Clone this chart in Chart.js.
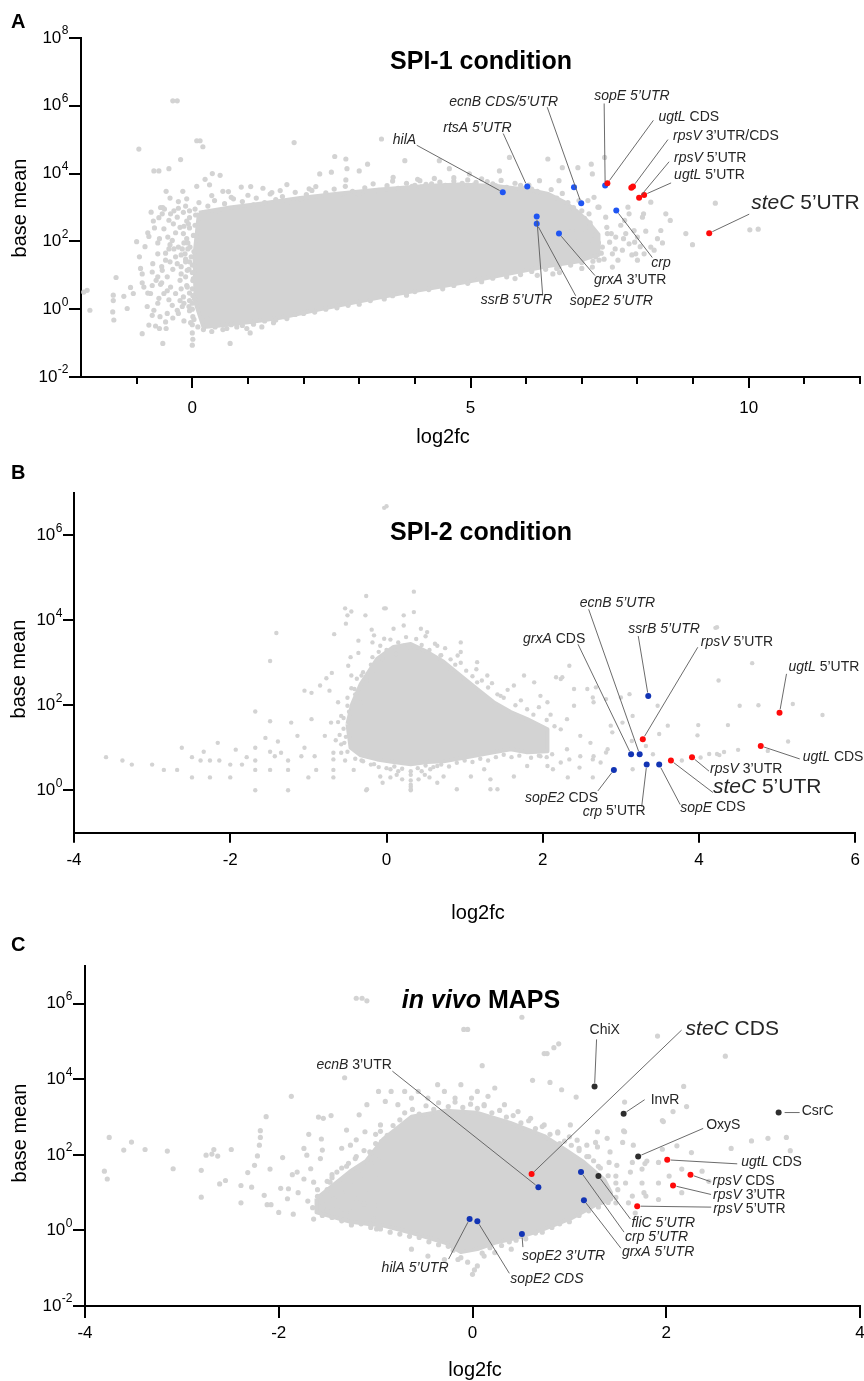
<!DOCTYPE html>
<html>
<head>
<meta charset="utf-8">
<script src="https://cdn.jsdelivr.net/npm/chart.js@4.4.1/dist/chart.umd.min.js"></script>
<style>
  html, body { margin: 0; padding: 0; background: #fff; }
  body { width: 864px; height: 1381px; position: relative; overflow: hidden; }
  canvas { position: absolute; left: 0; }
</style>
</head>
<body>
<canvas id="panelA" width="864" height="450" style="top:0px"></canvas>
<canvas id="panelB" width="864" height="480" style="top:450px"></canvas>
<canvas id="panelC" width="864" height="451" style="top:930px"></canvas>
<script>
// ---------- SPI-1 condition (panel A): [log2fc, base mean] ----------
const spi1Grey = [
  [-0.35,1.4e6],[-0.27,1.4e6],[0.08,9.3e4],[0.14,9.3e4],[0.19,6.2e4],[-0.96,5.3e4],[1.83,8.2e4],[-0.21,2.6e4],
  [-0.69,1.2e4],[-0.6,1.2e4],[-0.42,1.4e4],[-1.0,98],[-1.89,3.6],[-1.95,3.2],[-1.84,0.93],[-1.37,8.6],[-1.42,2.6],
  [-1.42,1.8],[-1.43,0.83],[-1.41,0.48],[-1.17,1.05],[-1.23,2.4],[-1.11,4.4],[-1.06,2.9],[-0.9,0.19],[-0.53,0.098],
  [0.0,0.087],[0.68,0.098],[1.04,0.2],[-0.72,0.66],[-0.78,0.34],[-0.59,0.27],[-0.66,0.32],[-0.48,0.42],[-0.47,0.27],
  [-0.9,11],[-0.93,16],[-0.71,22],[-0.74,730],[-0.57,1000],[-0.53,1000],[-0.47,3000],[-0.17,3000],[-0.44,134],
  [-0.62,43],[-0.59,120],[-0.54,14],[-0.45,9],[-0.57,5.4],[-0.36,1.3],[-0.27,0.93],[-0.18,1.2],
  [-0.54,650],[-0.39,650],[-0.27,520],[-0.22,260],[-0.34,330],[-0.16,170],[-0.51,235],[-0.36,107],[-0.25,68],
  [-0.13,43],[-0.48,28],[-0.27,22],[-0.09,14],[-0.22,7.1],[-0.39,4.5],[-0.51,2.9],[-0.3,2.9],[-0.16,2.3],[-0.6,2.1],
  [-0.69,0.93],[-0.45,0.75],[-0.25,0.75],[-0.09,4.5],[-0.04,68],[-0.16,720],[-0.07,330],[-0.65,7.1],[-0.75,2.9],
  [-0.81,1.2],[-0.87,4.5],[-0.72,12.5],[-0.8,180],[-0.7,400],[-0.62,90],[-0.42,60],[-0.3,35],[-0.2,18],[-0.12,9],
  [-0.05,25],[-0.35,15],[-0.55,6],[-0.45,3.5],[-0.15,1.5],[-0.05,1.8],[-0.62,1.5],[-0.3,180],[-0.1,120],[-0.05,500],
  [-0.25,1500],[-0.1,1800],[-0.4,1900],[-0.05,3],[-0.2,4],
  [-0.95,35],[-0.85,70],[-0.78,140],[-0.68,250],[-0.6,500],[-0.5,900],[-0.42,420],[-0.33,800],[-0.25,950],
  [-0.12,1100],[-0.05,800],[-0.9,6],[-0.8,3],[-0.72,5],[-0.62,9],[-0.55,18],[-0.48,45],[-0.4,80],[-0.33,60],
  [-0.2,40],[-0.12,25],[-0.08,60],[-0.15,90],[-0.4,25],[-0.58,0.6],[-0.35,0.55],[-0.15,0.45],[-0.05,0.9],
  [-0.22,1.8],[-0.42,1.9],
  [0.0,20],[0.0,12],[0.01,7],[0.0,4],[0.01,2.5],[0.0,1.5],[0.0,1],[0.01,0.6],[0.0,0.35],[0.0,0.2],[0.01,0.13],
  [0.26,0.53],[0.41,0.3],[0.62,0.27],[0.8,0.3],[0.98,0.27],[1.25,0.3],[1.46,0.4],[1.7,0.53],
  [0.36,1.0e4],[0.5,8900],[0.23,6800],[0.08,4200],[0.31,4650],[0.55,3000],[0.65,2950],[0.88,4000],[1.05,4150],
  [1.27,3700],[1.58,3160],[1.7,4750],[2.1,3550],[2.29,9800],[2.5,1.1e4],[2.56,3.2e4],[2.76,2.7e4],[2.78,1.4e4],
  [3.0,1.2e4],[3.15,1.9e4],[2.76,6500],[2.22,4150],[1.43,2750],[0.74,1800],[0.35,2250],
  [3.4,1.05e5],[4.44,2.4e4],[3.82,2.4e4],[3.61,7800],[4.09,6200],[4.62,1.4e4],[4.98,9800],[5.52,1.2e4],[5.7,3e4],
  [6.39,2.7e4],[6.65,1.5e4],[6.24,6200],[6.59,6200],[7.19,9800],[7.22,2000],[7.31,1020],[7.13,650],[7.43,520],
  [7.79,170],[7.97,43],[7.61,134],[8.09,520],[6.83,210],[6.95,43],[6.48,11],[7.31,28],
  [3.5,3500],[4.0,4500],[4.3,5000],[4.7,6000],[5.1,5500],[5.4,5000],[5.9,4500],[6.1,3500],[3.3,3000],[2.9,2600],
  [5.8,8],[6.2,10],[6.6,12],[7.0,16],
  [9.4,1340],[10.02,220],[10.17,230],[8.99,80],[8.87,170],[8.59,415],[8.51,650],[8.36,120],[8.42,210],[8.11,650],
  [7.94,210],[8.0,134],[7.83,1020],[7.85,650],[8.24,1440],[7.41,3e4],[7.17,1.9e4],[6.93,1.5e4],[7.11,1600],
  [7.29,1020],[7.53,170],[7.77,415],[8.12,43],[8.24,68],[8.0,28],
  [6.71,1020],[6.89,415],[7.07,210],[7.19,107],[7.37,68],[7.55,43],[7.73,55],[7.85,85],[7.46,170],[6.95,107],
  [6.83,35],[7.19,17.5],[7.55,17.5],[6.59,17.5],
  [7.15,300],[7.25,150],[7.3,90],[7.35,45],[7.25,35],[7.45,260],[7.5,95],[7.6,60],[7.65,28],[7.7,300],[7.75,120],
  [7.9,40],[7.95,95],[8.05,70],[8.15,200],[8.3,55],[8.45,90]
];
// ragged edge dots of the dense cloud
const spi1Edge = [
  [0.05,900],[0.12,1400],[0.2,700],[0.28,1100],[0.4,1600],[0.45,800],[0.58,1300],[0.7,2000],[0.78,1000],[0.9,1500],
  [1.0,2300],[1.1,1200],[1.15,1900],[1.3,1400],[1.4,2500],[1.5,1700],[1.62,2100],[1.75,1500],[1.85,2800],
  [1.95,1800],[2.05,2400],[2.15,3200],[2.3,2000],[2.4,2700],[2.55,3500],[2.65,2300],[2.75,4200],[2.88,3000],
  [3.0,2500],[3.1,3800],[3.25,5000],[3.35,3200],[3.5,4400],[3.6,6000],[3.7,3700],[3.85,5200],[3.95,4200],
  [4.05,6800],[4.2,4800],[4.35,7200],[4.45,5600],[4.55,4500],[4.7,7600],[4.85,5200],[4.95,6500],[5.05,4600],
  [5.2,7000],[5.3,5800],[5.45,4400],[5.55,6300],[5.65,3900],[5.8,5200],[5.95,3600],[6.05,4600],[6.2,3000],
  [6.3,2300],[6.45,3400],[6.55,1900],[6.65,2600],[6.75,1400],[6.85,1000],[6.95,1600],[7.0,800],[7.05,480],
  [7.15,350],
  [0.2,0.25],[0.35,0.22],[0.55,0.25],[0.7,0.35],[0.9,0.33],[1.1,0.36],[1.3,0.45],[1.5,0.48],[1.65,0.6],
  [1.85,0.7],[2.0,0.75],[2.2,0.82],[2.4,1.0],[2.6,1.1],[2.8,1.3],[3.0,1.4],[3.2,1.8],[3.45,2.0],[3.6,2.5],
  [3.85,2.6],[4.0,3.3],[4.25,3.8],[4.5,4.0],[4.7,5.0],[4.95,5.8],[5.2,6.5],[5.4,8.2],[5.65,9],[5.9,10.5],
  [6.1,13],[6.35,15],[6.55,16],[6.8,20],[7.0,24],[7.2,26],[7.4,30],
  [-0.1,400],[-0.05,250],[0.02,150],[-0.08,90],[0.03,50],[-0.12,30],[0.02,8],[-0.1,5],[0.04,2],[-0.06,1.2],
  [0.03,0.5],[-0.15,280],[-0.18,60],[-0.2,11],[-0.03,0.4],[0.05,300],[-0.02,35],[-0.06,15],[0.06,600],[0.1,0.3]
];
// outline of the dense, fully covered part of the cloud
const spi1Core = [
  [0.12,700],[0.68,1000],[1.22,1300],[1.94,1900],[2.65,2600],[3.37,3400],[4.09,4200],[4.8,4800],[5.52,4200],
  [6.06,3300],[6.4,2500],[6.7,1400],[6.9,800],[7.1,400],[7.3,160],
  [7.3,40],[7.1,32],[6.95,26],[6.42,19],[5.88,13],[5.16,7.5],[4.44,4.6],[3.73,2.9],[3.01,1.7],[2.29,1.0],[1.58,0.56],
  [1.04,0.42],[0.5,0.33],[0.2,0.3],[0.06,1.5],[0.04,40]
];
const spi1Features = ['hilA', "rtsA 5'UTR", 'ecnB CDS', "ecnB 5'UTR", "sopE 5'UTR", 'crp', "ssrB 5'UTR",
  "sopE2 5'UTR", "grxA 3'UTR", 'ugtL CDS', "rpsV 3'UTR", 'rpsV CDS', "rpsV 5'UTR", "ugtL 5'UTR", "steC 5'UTR"];
const spi1FeatureFc = [5.58, 6.02, 6.86, 6.99, 7.42, 7.62, 6.19, 6.19, 6.59, 7.46, 7.89, 7.92, 8.03, 8.12, 9.29];
const spi1FeatureMean = [2820, 4150, 3960, 1340, 4460, 815, 545, 330, 170, 5160, 3800, 4150, 1940, 2350, 175];
const spi1FeatureGroup = ['blue','blue','blue','blue','blue','blue','blue','blue','blue','red','red','red','red','red','red'];

// ---------- SPI-2 condition (panel B) ----------
const spi2Grey = [
  [-3.59,6],[-3.38,5],[-3.26,4],[-3.0,4],[-2.85,3],[-2.68,3],[-2.62,10],[-2.49,6],[-2.49,2],[-2.38,5],[-2.34,8],
  [-2.26,5],[-2.26,2],[-2.16,13],[-2.14,5],[-2.0,4],[-2.0,2],[-1.93,9],[-1.85,4],[-1.79,6],[-1.68,71],[-1.68,10],
  [-1.68,5],[-1.68,3],[-1.68,1],[-1.55,17],[-1.49,42],[-1.49,1100],[-1.41,5000],[-1.49,8],[-1.49,3],[-1.39,14],
  [-1.26,5],[-1.26,3],[-1.26,1],[-1.22,39],[-1.14,19],[-1.05,220],[-0.96,195],[-0.96,47],[-1.0,2],[-0.9,3],
  [-0.85,290],[-0.77,430],[-0.7,575],[-0.67,4700],[-0.68,2],[-0.68,3],[-0.68,5.3],[-0.68,7.6],[-0.73,220],
  [-0.53,1.9e4],[-0.5,1.3e4],[-0.45,1.6e4],[-0.52,8300],[-0.26,3.7e4],[-0.27,1.3e4],[-0.36,3300],[-0.36,1700],
  [-0.46,1350],[-0.49,850],[-0.45,500],[-0.26,1],[-0.42,3],[-0.53,5],[-0.32,5],[-0.19,6000],[-0.18,3000],[-0.18,1350],
  [-1.05,10],[-0.92,6.3],[-0.79,19],[-0.71,39],[-0.62,117],[-0.58,56],[-0.54,13],[-0.5,97],[-0.41,240],[-0.32,117],
  [-0.32,500],[-0.58,7.6],[-0.24,7.6],[-1.09,6.3],[-1.35,7.6],[-1.43,6.3],
  [-0.03,4.4e6],[0.0,4.8e6],
  [0.31,2.3],[0.31,1.35],[0.31,1],[0.2,1.8],[0.41,1.8],[0.13,2.3],[0.49,2.3],[0.05,3.1],[0.56,3.1],
  [-0.16,4.1],[-0.08,2.1],[-0.25,1.05],[0.31,1.05],[0.73,2.1],[0.9,1.05],[0.65,3.7],[1.08,2.1],[1.25,3.1],[1.33,1.8],
  [1.33,1.05],[1.42,1.05],[1.63,2.1],[1.8,3.7],[1.97,6.3],[2.06,3.7],[2.23,4.5],[2.31,9.2],[2.48,6.3],[2.65,6.3],
  [2.74,4.5],[2.83,9.2],[2.61,13],[2.48,19],[2.23,27],[2.31,47],[2.4,97],[2.06,117],[1.89,345],[1.76,500],[1.63,290],
  [2.23,415],[2.25,455],[2.57,240],[2.87,33],[2.65,117],[2.4,240],[1.97,166],[1.46,166],[1.29,500],[1.16,345],
  [0.95,3000],[0.95,1780],[0.78,710],[0.65,2500],[0.52,5250],[0.35,1.55e4],[0.35,4.7e4],[0.22,1.3e4],[0.22,7500],
  [-0.01,1.9e4],[-0.03,1.9e4],[-0.03,3650],[0.09,6300],[-0.16,4400],[-0.08,2500],[0.44,6300],[0.22,2500],[0.69,1480],
  [0.91,1480],[1.16,1030],
  [4.21,6600],[4.23,6800],[4.68,975],[4.25,380],[4.52,97],[4.76,100],[5.2,107],[5.58,59],[3.99,34],[4.37,34],
  [3.98,19.5],[5.14,14],[4.5,8.9],[4.32,7.9],[4.23,7.1],[4.13,7.1],[4.02,5.9],[3.78,5.0],[3.6,33],[3.49,21],
  [3.32,11],[3.41,7],[3.15,3.1],[3.11,182],[3.0,152],[3.47,97],[3.14,14.4],[3.02,39],[2.89,23],[2.81,7.7],[2.64,2],
  [2.64,5.3],[2.47,3.4],[2.34,5.3],[2.32,2],[2.13,3.1],[2.64,152],[2.81,139],[2.68,263],[2.34,850],[2.17,455],
  [3.15,56],[4.26,6.7],[4.88,8.4]
];
const spi2Edge = [
  [-0.55,50],[-0.5,150],[-0.45,250],[-0.4,180],[-0.38,420],[-0.3,600],[-0.25,380],[-0.2,900],[-0.15,650],
  [-0.1,1800],[-0.05,1200],[0.0,2000],[0.05,3500],[0.12,1600],[0.15,3000],[0.25,4000],[0.3,2200],[0.38,3600],
  [0.45,2600],[0.5,4200],[0.55,2000],[0.62,2800],[0.7,1500],[0.75,2200],[0.82,1200],[0.88,900],[0.95,1000],
  [1.02,650],[1.1,480],[1.15,700],[1.22,380],[1.3,260],[1.35,330],[1.42,180],[1.5,150],[1.55,230],[1.65,100],
  [1.72,130],[1.8,80],[1.88,60],[1.95,90],[2.05,45],[2.1,60],[2.15,32],
  [-0.5,8],[-0.4,5.5],[-0.3,4.8],[-0.2,4],[-0.1,3.5],[0.0,3.3],[0.1,3.6],[0.2,3.2],[0.4,3.3],[0.5,3.8],[0.6,3.5],
  [0.7,4],[0.8,3.6],[0.9,4.4],[1.0,5],[1.1,4.6],[1.2,5.5],[1.3,5],[1.4,6],[1.5,6.8],[1.6,6],[1.7,6.5],[1.85,5.8],
  [1.95,6.5],[2.05,6],[2.12,7],
  [-0.6,20],[-0.62,40],[-0.55,28],[-0.58,12],[-0.52,18],[-0.48,70],[-0.65,15],
  [0.31,2.8],[0.31,1.7],[0.31,1.2],[0.15,2.8],[0.05,2],[-0.05,1.5],[0.45,2.8],[0.55,2],[0.65,1.5]
];
const spi2Core = [
  [-0.5,36],[-0.44,107],[-0.33,315],[-0.12,1230],[0.09,2360],[0.31,2750],[0.52,1800],[0.73,1050],[0.95,490],
  [1.16,240],[1.37,118],[1.59,69],[1.8,47],[2.06,27],
  [2.06,8.2],[1.8,7.8],[1.59,9.2],[1.37,7.8],[1.16,6.6],[0.95,5.6],[0.73,4.8],[0.52,4.6],[0.31,4.1],[0.09,4.6],
  [-0.12,5.3],[-0.33,6.6],[-0.46,10]
];
const spi2Features = ["ecnB 5'UTR", "ssrB 5'UTR", 'grxA CDS', "crp 5'UTR", 'sopE CDS', 'sopE2 CDS',
  "rpsV 5'UTR", "steC 5'UTR", "rpsV 3'UTR", 'ugtL CDS', "ugtL 5'UTR"];
const spi2FeatureFc = [3.24, 3.35, 3.13, 3.33, 3.49, 2.91, 3.28, 3.64, 3.91, 4.79, 5.03];
const spi2FeatureMean = [7, 164, 7, 4.0, 4.0, 3.0, 15.8, 5.0, 6.0, 11, 66];
const spi2FeatureGroup = ['blue','blue','blue','blue','blue','blue','red','red','red','red','red'];

// ---------- in vivo MAPS (panel C) ----------
const mapsGrey = [
  [-3.75,290],[-3.8,37],[-3.77,23],[-3.6,134],[-3.52,219],[-3.38,139],[-3.15,126],[-3.09,43],[-2.8,39],[-2.8,7.6],
  [-2.75,98],[-2.69,105],[-2.67,139],[-2.63,93],[-2.61,17],[-2.55,21],[-2.49,139],[-2.39,15.5],[-2.39,5.4],
  [-2.32,34],[-2.28,14],[-2.25,53],[-2.22,94],[-2.2,181],[-2.19,290],[-2.19,437],[-2.13,1030],[-2.15,8.5],
  [-2.12,4.8],[-2.08,4.8],[-2.09,42],[-1.96,85],[-2.0,3.0],[-1.98,13],[-1.91,6.9],[-1.9,12.7],[-1.87,3550],
  [-1.86,30],[-1.81,35],[-1.85,2.7],[-1.74,148],[-1.71,98],[-1.69,350],[-1.67,43],[-1.74,23],[-1.64,19],[-1.64,2.0],
  [-1.59,1000],[-1.54,930],[-1.56,263],[-1.55,134],[-1.46,1100],[-1.57,80],[-1.47,19],[-1.4,35],[-1.54,4.6],
  [-1.43,6.9],[-1.32,1.1e4],[-1.3,455],[-1.26,181],[-1.21,80],[-1.17,1150],[-1.2,6.9],[-1.33,2.7],[-1.09,2130],
  [-1.11,410],[-1.06,120],[-1.09,23],[-1.02,2],[-1.01,4.6],[-0.97,4800],[-0.95,620],[-0.94,224],
  [-1.2,1.4e6],[-1.14,1.4e6],[-1.09,1.2e6],
  [-1.5,12],[-1.45,25],[-1.35,10],[-1.3,50],[-1.25,15],[-1.15,30],[-1.1,12],[-1.05,60],[-1.0,25],[-0.95,90],
  [-1.4,4],[-1.25,3],[-1.12,5],[-0.98,2],[-1.6,8],[-1.7,6],[-1.8,10],[-1.65,4],[-1.5,3.5],[-1.35,150],[-1.2,250],
  [-1.0,350],
  [0.51,4.4e5],[-0.09,2.1e5],[-0.05,2.1e5],[0.89,8.7e4],[0.84,6.9e4],[0.77,4.8e4],[0.74,4.8e4],[0.1,2.3e4],
  [0.62,9400],[0.8,8300],[0.92,5300],[1.07,3400],[1.91,1.4e5],[1.57,2500],[1.56,430],[1.66,181],[1.96,810],
  [2.07,1400],[1.78,59],[1.77,10],[1.63,35],[1.42,120],[1.49,53],[1.39,275],[1.29,162],[1.18,181],[1.08,245],
  [1.29,410],[1.01,620],[0.23,5900],[0.16,3550],[0.05,4800],[-0.12,7200],[-0.29,4800],[-0.36,7200],[-0.56,4800],
  [-0.7,4800],[-0.84,4800],[-0.9,2600],[-0.77,2130],[-0.63,3200],[-0.46,3200],[-0.18,3200],[-0.01,3200],
  [0.12,2130],[0.33,2130],[0.47,1400],[0.6,930],[0.74,620],[0.88,410],
  [1.0,300],[1.1,150],[1.2,90],[1.3,50],[0.9,200],
  [-0.05,0.145],[0.02,0.09],[-0.12,0.19],[0.0,0.069],[0.05,0.115],[-0.15,0.17],[0.12,0.21],[-0.29,0.17],
  [-0.46,0.21],[0.23,0.26],[0.4,0.32],[-0.63,0.32],[-0.99,1.1],[-1.06,1.48],
  [2.61,4.1e4],[2.18,6500],[2.21,1900],[1.97,760],[1.57,410],[2.88,234],[3.05,275],[3.24,290],[3.28,129],
  [2.67,148],[2.11,174],[2.26,115],[1.8,69],[1.92,63],[2.03,27.5],[2.16,42],[2.37,37],[2.44,20],[1.92,18],
  [1.75,18],[1.79,8.1],[1.92,6.6],[2.16,10],[1.65,8.1],[1.61,5.4],[1.48,5.4],[1.68,2.9],[1.58,18],[1.75,42],
  [1.65,63],[1.55,214],[1.96,141],[1.41,63],[1.48,27.5],[1.34,18],[1.27,214]
];
const mapsEdge = [
  [-1.6,12],[-1.5,20],[-1.45,30],[-1.35,45],[-1.28,60],[-1.2,90],[-1.12,130],[-1.05,110],[-1.0,200],[-0.95,420],
  [-0.88,330],[-0.82,600],[-0.75,850],[-0.7,1300],[-0.62,1600],[-0.55,1200],[-0.48,2000],[-0.4,1600],[-0.35,2400],
  [-0.25,1900],[-0.18,2500],[-0.1,1800],[-0.02,2200],[0.05,1700],[0.12,2000],[0.2,1300],[0.28,1500],[0.35,1000],
  [0.42,1100],[0.5,700],[0.58,800],[0.65,500],[0.72,560],[0.8,350],[0.88,380],[0.95,230],[1.02,180],[1.1,130],
  [1.18,90],[1.25,70],[1.32,45],[1.4,28],[1.48,18],[1.5,12],
  [-1.55,2.5],[-1.45,2.2],[-1.35,1.8],[-1.25,1.4],[-1.15,1.5],[-1.05,1.2],[-0.95,1.1],[-0.85,0.9],[-0.75,0.8],
  [-0.65,0.7],[-0.55,0.65],[-0.45,0.5],[-0.35,0.42],[-0.25,0.38],[-0.2,0.3],[0.1,0.25],[0.18,0.35],[0.3,0.4],
  [0.38,0.5],[0.45,0.55],[0.55,0.6],[0.65,0.85],[0.72,0.9],[0.82,1.2],[0.9,1.5],[1.0,1.7],[1.1,2.5],[1.2,3.3],
  [1.3,4.2],[1.4,5.5],[1.48,7.5]
];
const mapsCore = [
  [-1.61,7.0],[-1.43,16.5],[-1.26,37],[-1.1,68],[-0.92,263],[-0.63,1020],[-0.28,1470],[0.05,1300],[0.39,705],
  [0.74,316],[0.95,142],[1.15,64],[1.36,22],[1.43,10],
  [1.43,6.6],[1.26,4.6],[1.01,2.05],[0.74,1.1],[0.5,0.68],[0.23,0.47],[0.05,0.32],[-0.12,0.27],[-0.28,0.47],
  [-0.63,0.87],[-0.92,1.34],[-1.26,1.7],[-1.61,3.0]
];
const mapsFeatures = ['ChiX', 'InvR', 'CsrC', 'OxyS', "fliC 5'UTR", 'ugtL CDS', 'rpsV CDS', "rpsV 3'UTR",
  "rpsV 5'UTR", 'steC CDS', "ecnB 3'UTR", "crp 5'UTR", "grxA 5'UTR", "hilA 5'UTR", 'sopE2 CDS', "sopE2 3'UTR"];
const mapsFeatureFc = [1.26, 1.56, 3.16, 1.71, 1.3, 2.01, 2.25, 2.07, 1.7, 0.61, 0.68, 1.12, 1.15, -0.03, 0.05, 0.51];
const mapsFeatureMean = [6500, 1230, 1320, 91, 27.5, 74, 30, 15.5, 4.4, 31, 14, 35, 6.3, 2.0, 1.74, 0.8];
const mapsFeatureGroup = ['black','black','black','black','black','red','red','red','red','red',
  'blue','blue','blue','blue','blue','blue'];

// ---------- axis ticks ----------
const spi1YTicks = [1e-2, 1, 1e2, 1e4, 1e6, 1e8];
const spi1XTicks = [-1, 0, 1, 2, 3, 4, 5, 6, 7, 8, 9, 10, 11, 12];
const spi1XLabels = [0, 5, 10];
const spi2YTicks = [1, 1e2, 1e4, 1e6];
const spi2XTicks = [-4, -2, 0, 2, 4, 6];
const mapsYTicks = [1e-2, 1, 1e2, 1e4, 1e6];
const mapsXTicks = [-4, -2, 0, 2, 4];

const FONT = '"Liberation Sans", Arial, Helvetica, sans-serif';
const GREY = '#d3d3d3';

// label placement: text (t) and leader line end (l), pixel offsets from the marked point
const spi1Labels = [
  { at: 0, parts: [['hilA', 1]], t: [-110, -52], l: [-86, -47] },
  { at: 1, parts: [['rtsA 5’UTR', 1]], t: [-84, -58], l: [-24, -53] },
  { at: 3, parts: [['ecnB CDS/5’UTR', 1]], t: [-132, -101], l: [-34, -96] },
  { at: 4, parts: [['sopE 5’UTR', 1]], t: [-11, -89], l: [-1, -82] },
  { at: 9, parts: [['ugtL', 1], [' CDS', 0]], t: [51, -66], l: [46, -63] },
  { at: 11, parts: [['rpsV', 1], [' 3’UTR/CDS', 0]], t: [40, -50], l: [35, -47] },
  { at: 12, parts: [['rpsV', 1], [' 5’UTR', 0]], t: [35, -40], l: [30, -36] },
  { at: 13, parts: [['ugtL', 1], [' 5’UTR', 0]], t: [30, -20], l: [27, -12] },
  { at: 14, parts: [['steC', 1], [' 5’UTR', 0]], t: [42, -30], l: [40, -19], big: true },
  { at: 5, parts: [['crp', 1]], t: [35, 53], l: [36, 47] },
  { at: 8, parts: [['grxA', 1], [' 3’UTR', 0]], t: [35, 47], l: [36, 42] },
  { at: 6, parts: [['ssrB 5’UTR', 1]], t: [-56, 84], l: [6, 79] },
  { at: 7, parts: [['sopE2 5’UTR', 1]], t: [33, 77], l: [39, 72] }
];
const spi2Labels = [
  { at: 0, parts: [['ecnB 5’UTR', 1]], t: [-60, -151], l: [-51, -145] },
  { at: 1, parts: [['ssrB 5’UTR', 1]], t: [-20, -67], l: [-10, -60] },
  { at: 2, parts: [['grxA', 1], [' CDS', 0]], t: [-108, -115], l: [-53, -110] },
  { at: 6, parts: [['rpsV', 1], [' 5’UTR', 0]], t: [58, -97], l: [55, -92] },
  { at: 10, parts: [['ugtL', 1], [' 5’UTR', 0]], t: [9, -46], l: [7, -39] },
  { at: 9, parts: [['ugtL', 1], [' CDS', 0]], t: [42, 11], l: [39, 13] },
  { at: 8, parts: [['rpsV', 1], [' 3’UTR', 0]], t: [18, 12], l: [17, 14] },
  { at: 7, parts: [['steC', 1], [' 5’UTR', 0]], t: [42, 27], l: [42, 32], big: true },
  { at: 4, parts: [['sopE', 1], [' CDS', 0]], t: [21, 43], l: [21, 40] },
  { at: 3, parts: [['crp', 1], [' 5’UTR', 0]], t: [-64, 47], l: [-5, 42] },
  { at: 5, parts: [['sopE2', 1], [' CDS', 0]], t: [-89, 28], l: [-16, 21] }
];
const mapsLabels = [
  { at: 0, parts: [['ChiX', 0]], t: [-5, -56], l: [2, -47] },
  { at: 9, parts: [['steC', 1], [' CDS', 0]], t: [154, -145], l: [150, -144], big: true },
  { at: 1, parts: [['InvR', 0]], t: [27, -14], l: [21, -14] },
  { at: 2, parts: [['CsrC', 0]], t: [23, -1], l: [21, 0], gap: 6 },
  { at: 3, parts: [['OxyS', 0]], t: [68, -31], l: [65, -28] },
  { at: 5, parts: [['ugtL', 1], [' CDS', 0]], t: [74, 2], l: [70, 4] },
  { at: 6, parts: [['rpsV', 1], [' CDS', 0]], t: [22, 6], l: [20, 7] },
  { at: 7, parts: [['rpsV', 1], [' 3’UTR', 0]], t: [40, 10], l: [38, 9] },
  { at: 8, parts: [['rpsV', 1], [' 5’UTR', 0]], t: [76, 3], l: [74, 1] },
  { at: 4, parts: [['fliC 5’UTR', 1]], t: [33, 47], l: [32, 43] },
  { at: 11, parts: [['crp 5’UTR', 1]], t: [44, 65], l: [43, 60] },
  { at: 12, parts: [['grxA 5’UTR', 1]], t: [38, 52], l: [37, 48] },
  { at: 15, parts: [['sopE2 3’UTR', 1]], t: [0, 22], l: [1, 13] },
  { at: 14, parts: [['sopE2 CDS', 1]], t: [33, 58], l: [32, 52] },
  { at: 13, parts: [['hilA 5’UTR', 1]], t: [-88, 49], l: [-21, 40] },
  { at: 10, parts: [['ecnB', 1], [' 3’UTR', 0]], t: [-222, -122], l: [-146, -116] }
];

// draw text made of plain / italic pieces
function drawParts(ctx, parts, x, y, size, weight, align) {
  const fonts = parts.map(p => (p[1] ? 'italic ' : '') + weight + ' ' + size + 'px ' + FONT);
  let total = 0;
  const widths = parts.map((p, i) => {
    ctx.font = fonts[i];
    const w = ctx.measureText(p[0]).width;
    total += w;
    return w;
  });
  let cx = align === 'center' ? x - total / 2 : x;
  ctx.textAlign = 'left';
  parts.forEach((p, i) => {
    ctx.font = fonts[i];
    ctx.fillText(p[0], cx, y);
    cx += widths[i];
  });
}

// "10" with a raised exponent, right aligned
function drawPower(ctx, exp, right, y) {
  ctx.font = '17px ' + FONT;
  const wBase = ctx.measureText('10').width;
  ctx.font = '12px ' + FONT;
  const wExp = ctx.measureText(exp).width;
  const x0 = right - wBase - wExp;
  ctx.textAlign = 'left';
  ctx.font = '17px ' + FONT;
  ctx.fillText('10', x0, y);
  ctx.font = '12px ' + FONT;
  ctx.fillText(exp, x0 + wBase + 0.5, y - 7);
}

function decorPlugin(p) {
  return {
    id: 'panelDecor',
    afterDraw(chart) {
      const ctx = chart.ctx;
      const xs = chart.scales.x;
      const ys = chart.scales.y;
      const area = chart.chartArea;
      ctx.save();
      ctx.fillStyle = '#000';
      ctx.textBaseline = 'middle';

      p.yTicks.forEach(v => {
        drawPower(ctx, String(Math.round(Math.log10(v))), area.left - p.yTickLen - 1, ys.getPixelForValue(v));
      });

      ctx.font = '17px ' + FONT;
      ctx.textAlign = 'center';
      p.xLabels.forEach(v => {
        ctx.fillText(String(v), xs.getPixelForValue(v), area.bottom + p.xLabelGap);
      });

      // longer marks at the labelled ticks
      if (p.majorTickLen) {
        ctx.strokeStyle = '#000';
        ctx.lineWidth = 2;
        p.xLabels.forEach(v => {
          const x = Math.round(xs.getPixelForValue(v));
          ctx.beginPath();
          ctx.moveTo(x, area.bottom);
          ctx.lineTo(x, area.bottom + p.majorTickLen);
          ctx.stroke();
        });
      }

      // axis titles
      ctx.font = '20px ' + FONT;
      ctx.textAlign = 'center';
      ctx.fillText('log2fc', p.xTitle[0], p.xTitle[1]);
      ctx.save();
      ctx.translate(p.yTitle[0], p.yTitle[1]);
      ctx.rotate(-Math.PI / 2);
      ctx.fillText('base mean', 0, 0);
      ctx.restore();

      // panel letter and title
      ctx.font = 'bold 20px ' + FONT;
      ctx.textAlign = 'left';
      ctx.fillText(p.letter, 11, p.letterY);
      drawParts(ctx, p.title, 481, p.titleY, 25, 'bold', 'center');

      // feature labels with leader lines
      p.labels.forEach(lab => {
        const px = xs.getPixelForValue(p.fc[lab.at]);
        const py = ys.getPixelForValue(p.mean[lab.at]);
        const ex = px + lab.l[0];
        const ey = py + lab.l[1];
        const len = Math.hypot(lab.l[0], lab.l[1]);
        const gap = lab.gap || 3.5;
        ctx.strokeStyle = '#5a5a5a';
        ctx.lineWidth = 0.9;
        ctx.beginPath();
        ctx.moveTo(px + lab.l[0] / len * gap, py + lab.l[1] / len * gap);
        ctx.lineTo(ex, ey);
        ctx.stroke();
        ctx.fillStyle = '#262626';
        drawParts(ctx, lab.parts, px + lab.t[0], py + lab.t[1], lab.big ? 21 : 14, 'normal', 'left');
      });
      ctx.restore();
    }
  };
}

function buildPanel(id, p) {
  const toXY = pairs => pairs.map(([x, y]) => ({ x, y }));
  const groupColors = { blue: p.blue, red: '#ff0a0a', black: '#2e2e2e' };
  const datasets = [];
  ['black', 'red', 'blue'].forEach(g => {
    const pts = [];
    p.fc.forEach((fc, i) => { if (p.group[i] === g) pts.push({ x: fc, y: p.mean[i] }); });
    if (pts.length) {
      datasets.push({ data: pts, backgroundColor: groupColors[g], borderWidth: 0, pointRadius: 3, order: 0 });
    }
  });
  datasets.push({ data: toXY(p.grey.concat(p.edge)), backgroundColor: GREY, borderWidth: 0, pointRadius: p.dot, order: 1 });
  datasets.push({
    type: 'line',
    data: toXY(p.core.concat([p.core[0]])),
    fill: 'shape',
    backgroundColor: GREY,
    borderColor: GREY,
    borderWidth: 4,
    borderJoinStyle: 'round',
    pointRadius: 0,
    tension: 0,
    order: 2
  });

  const canvas = document.getElementById(id);
  const H = canvas.height;
  return new Chart(canvas, {
    type: 'scatter',
    data: { datasets },
    options: {
      responsive: false,
      animation: false,
      events: [],
      layout: { padding: { top: p.area.top, right: 864 - p.area.right, bottom: 0, left: 0 } },
      plugins: { legend: { display: false }, tooltip: { enabled: false } },
      scales: {
        x: {
          type: 'linear', min: p.xMin, max: p.xMax,
          border: { display: true, color: '#000', width: 2 },
          grid: { display: true, drawOnChartArea: false, drawTicks: true, tickLength: p.xTickLen,
                  color: '#000', lineWidth: 2 },
          ticks: { display: false },
          afterBuildTicks: s => { s.ticks = p.xTicks.map(v => ({ value: v })); },
          afterFit: s => { s.height = H - p.area.bottom; }
        },
        y: {
          type: 'logarithmic', min: p.yMin, max: p.yMax,
          border: { display: true, color: '#000', width: 2 },
          grid: { display: true, drawOnChartArea: false, drawTicks: true, tickLength: p.yTickLen,
                  color: '#000', lineWidth: 2 },
          ticks: { display: false },
          afterBuildTicks: s => { s.ticks = p.yTicks.map(v => ({ value: v })); },
          afterFit: s => { s.width = p.area.left; }
        }
      }
    },
    plugins: [decorPlugin(p)]
  });
}

buildPanel('panelA', {
  grey: spi1Grey, edge: spi1Edge, core: spi1Core, fc: spi1FeatureFc, mean: spi1FeatureMean, group: spi1FeatureGroup,
  labels: spi1Labels, blue: '#1f55f2', dot: 2.6,
  xMin: -2, xMax: 12, yMin: 1e-2, yMax: 1e8,
  xTicks: spi1XTicks, xLabels: spi1XLabels, yTicks: spi1YTicks,
  area: { left: 81, top: 38, right: 864, bottom: 377 },
  xTickLen: 7, majorTickLen: 11, yTickLen: 12, xLabelGap: 31,
  xTitle: [443, 437], yTitle: [20, 208],
  letter: 'A', letterY: 22, title: [['SPI-1 condition', 0]], titleY: 62
});

buildPanel('panelB', {
  grey: spi2Grey, edge: spi2Edge, core: spi2Core, fc: spi2FeatureFc, mean: spi2FeatureMean, group: spi2FeatureGroup,
  labels: spi2Labels, blue: '#1234b4', dot: 2.2,
  xMin: -4, xMax: 6, yMin: 1e-1, yMax: 1e7,
  xTicks: spi2XTicks, xLabels: spi2XTicks, yTicks: spi2YTicks,
  area: { left: 74, top: 42.7, right: 855.3, bottom: 382.7 },
  xTickLen: 10, majorTickLen: 0, yTickLen: 11, xLabelGap: 28,
  xTitle: [478, 463], yTitle: [19, 219],
  letter: 'B', letterY: 23, title: [['SPI-2 condition', 0]], titleY: 83
});

buildPanel('panelC', {
  grey: mapsGrey, edge: mapsEdge, core: mapsCore, fc: mapsFeatureFc, mean: mapsFeatureMean, group: mapsFeatureGroup,
  labels: mapsLabels, blue: '#1234b4', dot: 2.6,
  xMin: -4, xMax: 4, yMin: 1e-2, yMax: 1e7,
  xTicks: mapsXTicks, xLabels: mapsXTicks, yTicks: mapsYTicks,
  area: { left: 85, top: 36, right: 864, bottom: 376 },
  xTickLen: 12, majorTickLen: 0, yTickLen: 12, xLabelGap: 27,
  xTitle: [475, 440], yTitle: [20, 203],
  letter: 'C', letterY: 15, title: [['in vivo', 1], [' MAPS', 0]], titleY: 71
});
</script>
</body>
</html>
